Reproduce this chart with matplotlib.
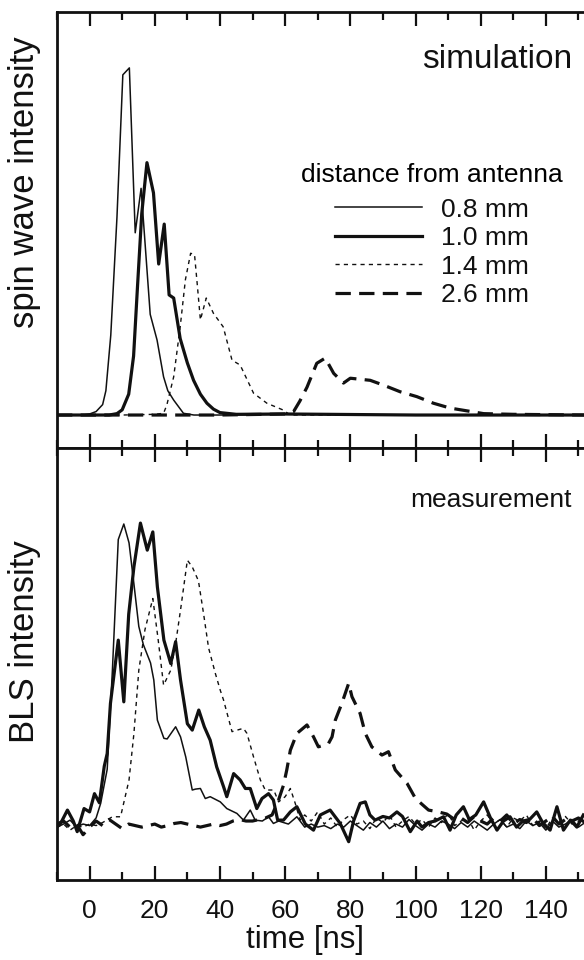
import numpy as np
import matplotlib
matplotlib.use("Agg")
import matplotlib.pyplot as plt
from matplotlib.ticker import MultipleLocator, NullLocator

plt.rcParams['font.family'] = ['Liberation Sans', 'DejaVu Sans']

# --- simulation (top panel) ---
sim_t_08 = [-10, -2, 0, 2, 4, 5, 6.5, 8.4, 10.2, 12.2, 14, 15.8, 18.6, 20.7, 22.7, 24, 25.8,
            28.8, 32, 40, 60, 100, 152]
sim_08 = [0, 0, 0.003, 0.01, 0.03, 0.07, 0.23, 0.57, 0.98, 1.0, 0.525, 0.653, 0.29, 0.216, 0.11,
          0.07, 0.043, 0.005, 0, 0, 0.002, 0, 0]

sim_t_10 = [-10, 6, 8.4, 10, 12, 13.5, 14.7, 16, 17.6, 19.6, 21.2, 22.9, 24.4, 25.8, 27.8, 30,
            31.9, 34, 36, 38, 40, 45, 60, 100, 152]
sim_10 = [0, 0, 0.004, 0.015, 0.06, 0.17, 0.37, 0.58, 0.727, 0.64, 0.435, 0.55, 0.346, 0.337,
          0.22, 0.15, 0.1, 0.06, 0.034, 0.017, 0.007, 0.002, 0.003, 0, 0]

sim_t_14 = [-10, 10, 20, 22.7, 23.7, 25.8, 27.8, 29.4, 31, 32.2, 33, 34, 35.8, 38, 41, 43.7,
            46.2, 50.3, 54.4, 59.5, 61.5, 70, 100, 152]
sim_14 = [0, 0, 0.002, 0.005, 0.029, 0.11, 0.254, 0.39, 0.466, 0.462, 0.38, 0.274, 0.337, 0.293,
          0.254, 0.158, 0.144, 0.063, 0.034, 0.014, 0.0, 0, 0, 0]

sim_t_26 = [-10, 20, 40, 60, 62.6, 64.5, 66.7, 69.7, 72.3, 74.9, 77.9, 80, 86.1, 90.2, 95.3,
            100.4, 105.5, 110.6, 115.8, 120.9, 130, 152]
sim_26 = [0, 0, 0, 0.003, 0.01, 0.04, 0.08, 0.149, 0.164, 0.12, 0.092, 0.106, 0.1, 0.086, 0.067,
          0.053, 0.034, 0.02, 0.012, 0.004, 0.002, 0]

# --- BLS measurement (bottom panel) ---
tail_t = list(range(66, 153, 2))

meas_t_08 = [-10, -8, -6, -4, -2, 0, 2, 3.4, 5.4, 7, 8.8, 10.5, 12.1, 13.6, 15.1, 16.5, 18.7,
             19.7, 20.8, 22.8, 23.8, 26.4, 27.9, 29.5, 31.5, 32.5, 34, 35.5, 37, 40.1, 42.1,
             45.2, 47.2, 49.3, 50.8, 53, 54.9, 56.4, 58, 61, 63.6] + tail_t
meas_08 = [0.0, 0.01, 0.023, 0.0, 0.01, 0.005, 0.03, 0.078, 0.19, 0.516, 0.946, 0.997, 0.935,
           0.8, 0.66, 0.6, 0.54, 0.484, 0.352, 0.292, 0.29, 0.33, 0.297, 0.231, 0.122, 0.125,
           0.127, 0.094, 0.1, 0.083, 0.061, 0.045, 0.023, 0.056, 0.023, 0.02, 0.034, 0.012,
           0.02, 0.01, 0.034] + \
          [0.0, 0.01, 0.0, 0.005, -0.005, 0.01, 0.0, 0.02, 0.005, -0.01, 0.015, 0.0, 0.02,
           -0.005, 0.01, 0.0, 0.025, 0.005, -0.01, 0.01, 0.0, 0.02, 0.01, -0.005, 0.015, 0.0,
           0.02, 0.005, -0.01, 0.01, 0.025, 0.0, 0.01, -0.005, 0.02, 0.005, 0.015, -0.01,
           0.02, 0.0, 0.01, 0.025, 0.0, 0.015]

meas_t_10 = [-10, -8.9, -6.8, -5, -3.8, -1.7, 0, 1.5, 3, 4.5, 5.4, 6.4, 8.8, 10.5, 12, 13.6,
             15.6, 17.7, 19.4, 20.8, 22.8, 24.9, 26.4, 27.9, 30, 31.5, 33.5, 35.2, 37, 39, 41.1,
             42.1, 44.2, 46.2, 47.8, 49.3, 51.3, 52.9, 54.9, 56.4, 57.7, 59.5, 61.6, 63.6, 66.2,
             68.7, 70.8, 73.8, 76.9, 79.5, 81, 83, 84.6, 86, 87.6, 90, 92, 94.3, 96, 98.4, 100.5,
             102, 104, 106, 108.6, 110.6, 112.5, 114.7, 116.5, 118.5, 120.9, 123, 125, 127, 129,
             131, 133, 135, 137.2, 139, 141.3, 143.4, 145.4, 147.5, 149.5, 151.5]
meas_10 = [0.0, 0.012, 0.056, 0.02, -0.015, 0.061, 0.05, 0.11, 0.08, 0.2, 0.242, 0.407, 0.615,
           0.412, 0.7, 0.856, 1.0, 0.911, 0.971, 0.79, 0.615, 0.538, 0.61, 0.484, 0.34, 0.319,
           0.385, 0.33, 0.286, 0.198, 0.133, 0.1, 0.176, 0.155, 0.127, 0.127, 0.061, 0.094,
           0.11, 0.089, 0.023, 0.023, 0.05, 0.067, 0.01, -0.01, 0.04, 0.056, 0.012, -0.048,
           0.02, 0.078, 0.083, 0.04, 0.023, 0.035, 0.03, 0.05, 0.035, -0.015, 0.02, 0.0, 0.015,
           0.02, 0.034, -0.01, 0.04, 0.067, 0.025, 0.04, 0.083, 0.03, -0.01, 0.02, 0.034, 0.0,
           0.02, 0.025, 0.05, 0.015, -0.01, 0.067, -0.01, 0.023, 0.0, 0.04]

meas_t_14 = [-10, -8, -6, -4, -2, 0, 2, 4, 7, 9.5, 12.1, 13.6, 15.1, 17, 19.4, 21, 22.7, 24.9,
             26.4, 27.9, 30, 31.5, 33.4, 35, 36.5, 38.6, 40.1, 41.1, 43.7, 47.2, 48.3, 50.3,
             52.4, 53.9, 56.5, 58, 60, 61.6, 63.1, 64.6] + tail_t
meas_14 = [0.0, 0.01, -0.01, 0.005, 0.0, 0.01, 0.005, 0.015, 0.034, 0.034, 0.155, 0.308, 0.516,
           0.65, 0.752, 0.62, 0.467, 0.516, 0.604, 0.714, 0.878, 0.856, 0.81, 0.7, 0.59, 0.505,
           0.45, 0.418, 0.314, 0.325, 0.308, 0.231, 0.155, 0.122, 0.122, 0.083, 0.1, 0.127,
           0.078, 0.023] + \
          [0.04, 0.02, 0.05, 0.01, 0.03, 0.0, 0.025, 0.04, 0.01, 0.02, -0.005, 0.03, 0.015,
           0.04, 0.0, 0.02, 0.035, 0.01, 0.025, 0.0, 0.03, 0.015, 0.045, 0.005, 0.02, 0.03,
           -0.01, 0.02, 0.04, 0.01, 0.025, 0.0, 0.03, 0.02, 0.04, 0.005, 0.02, -0.005, 0.03,
           0.015, 0.035, 0.01, 0.02, 0.03]

meas_t_26 = list(range(-10, 57, 2)) + [58, 59.5, 60.5, 61.6, 63.6, 66.7, 68.7, 70.2, 73.3,
                                       74.4, 75.4, 77.4, 79.5, 80.5, 83, 84.6, 86.6, 89.7,
                                       91.7, 93.8, 97.4, 100, 104, 107, 109.6] + \
            list(range(112, 153, 2))
meas_26 = [0.01, 0.02, 0.0, 0.01, -0.025, 0.0, 0.02, 0.005, 0.025, 0.01, -0.005, 0.01, 0.005,
           0.0, 0.005, 0.01, 0.0, 0.005, 0.012, 0.015, 0.01, 0.005, 0.0, 0.005, 0.01, 0.005,
           0.01, 0.02, 0.025, 0.02, 0.02, 0.025, 0.03, 0.04] + \
          [0.09, 0.138, 0.188, 0.253, 0.308, 0.336, 0.297, 0.264, 0.275, 0.297, 0.352, 0.407,
           0.473, 0.429, 0.374, 0.308, 0.264, 0.237, 0.248, 0.188, 0.144, 0.094, 0.056, 0.05,
           0.043] + \
          [0.025, 0.03, 0.015, 0.035, 0.02, 0.01, 0.03, 0.02, 0.04, 0.01, 0.025, 0.015, 0.03,
           0.005, 0.02, 0.035, 0.01, 0.025, 0.02, 0.03, 0.015]

labels = ['0.8 mm', '1.0 mm', '1.4 mm', '2.6 mm']
ink = '#111111'
styles = [dict(lw=1.1, ls='-'),
          dict(lw=2.3, ls='-'),
          dict(lw=1.0, dashes=(3.0, 3.0)),
          dict(lw=2.3, dashes=(4.8, 2.6))]

fig = plt.figure(figsize=(5.84, 9.6), dpi=100)
W, H = 584, 960
left = 57 / W
ax1 = fig.add_axes([left, 1 - 448 / H, 1 - left, (448 - 12) / H])
ax2 = fig.add_axes([left, 1 - 880 / H, 1 - left, (880 - 448) / H])

sim = [(sim_t_08, sim_08), (sim_t_10, sim_10), (sim_t_14, sim_14), (sim_t_26, sim_26)]
meas = [(meas_t_08, meas_08), (meas_t_10, meas_10), (meas_t_14, meas_14), (meas_t_26, meas_26)]

for (t, v), st, lab in zip(sim, styles, labels):
    ax1.plot(t, v, color=ink, label=lab, **st)
for (t, v), st in zip(meas, styles):
    ax2.plot(t, v, color=ink, **st)

ax1.set_ylim(-0.095, 1.161)
ax2.set_ylim(-0.174, 1.247)

for ax in (ax1, ax2):
    ax.set_xlim(-10, 151.7)
    ax.spines['right'].set_visible(False)
    for s in ('left', 'top', 'bottom'):
        ax.spines[s].set_linewidth(2.0)
        ax.spines[s].set_color(ink)
    ax.xaxis.set_major_locator(MultipleLocator(20))
    ax.xaxis.set_minor_locator(MultipleLocator(10))
    ax.yaxis.set_major_locator(NullLocator())
    ax.tick_params(axis='x', which='both', direction='in', top=True, bottom=True,
                   color=ink, width=1.6)
    ax.tick_params(axis='x', which='major', length=10)
    ax.tick_params(axis='x', which='minor', length=6)

ax1.tick_params(axis='x', labelbottom=False)
ax2.tick_params(axis='x', labelsize=19, pad=14, labelcolor=ink)

ax1.text(0.977, 0.89, 'simulation', transform=ax1.transAxes, ha='right', va='center',
         fontsize=24, color=ink)
ax2.text(0.977, 0.88, 'measurement', transform=ax2.transAxes, ha='right', va='center',
         fontsize=19, color=ink)

leg = ax1.legend(title='distance from antenna', loc='upper right',
                 bbox_to_anchor=(0.985, 0.685), frameon=False, fontsize=19,
                 title_fontsize=19, handlelength=3.3, handletextpad=0.75,
                 labelspacing=0.17, borderpad=0)
leg._legend_box.sep = 8
for txt in leg.get_texts():
    txt.set_color(ink)

fig.text(25 / W, 1 - 182 / H, 'spin wave intensity', rotation=90, ha='center', va='center',
         fontsize=25, color=ink)
fig.text(25 / W, 1 - 642 / H, 'BLS intensity', rotation=90, ha='center', va='center',
         fontsize=25, color=ink)
fig.text(305 / W, 1 - 940 / H, 'time [ns]', ha='center', va='center', fontsize=22.5, color=ink)

fig.savefig('out.png', dpi=100)
